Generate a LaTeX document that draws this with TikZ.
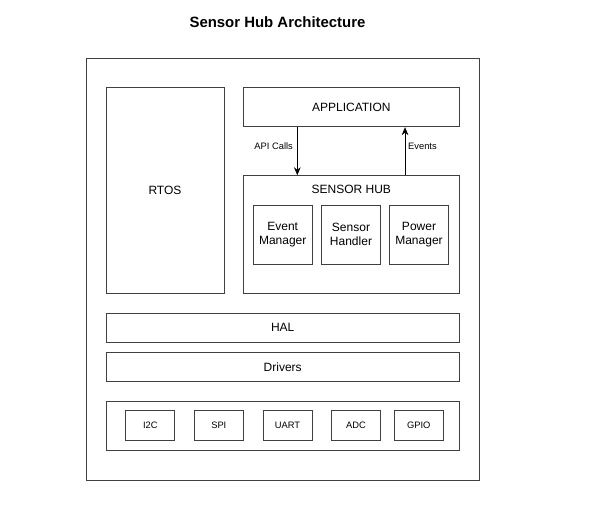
\documentclass[tikz,border=0pt]{standalone}
\usepackage{fontspec}
\setmainfont{Liberation Sans}
\usetikzlibrary{arrows.meta}

\tikzset{
    layer/.style={draw=black!75, line width=0.7pt, fill=white, inner sep=0pt, font=\fontsize{9}{11}\selectfont},
    unit/.style={layer, minimum width=44.5pt, minimum height=44.25pt, align=center},
    port/.style={layer, minimum width=36.75pt, minimum height=22.2pt, font=\fontsize{7}{8}\selectfont},
    tag/.style={font=\fontsize{7}{8}\selectfont, inner sep=1pt}
}

\begin{document}
\begin{tikzpicture}[x=0.75pt,y=-0.75pt,>={Stealth[length=6pt,width=5pt]}]
    \useasboundingbox (0,0) rectangle (597,522);

    % Titre
    \node[font=\bfseries\fontsize{11.2}{13}\selectfont] (title) at (277.5,22) {Sensor Hub Architecture};

    % Cadre
    \node[layer, minimum width=294.2pt, minimum height=316.3pt] (frame) at (282.9,269.2) {};

    % Blocs du haut
    \node[layer, minimum width=88.5pt, minimum height=154.2pt] (rtos) at (165,190.5) {RTOS};
    \node[layer, minimum width=162pt, minimum height=29.25pt] (app) at (351.3,107.2) {APPLICATION};
    \node[layer, minimum width=162pt, minimum height=88.2pt] (hub) at (351.3,234.5) {};
    \node[font=\fontsize{9}{11}\selectfont] (hubtitle) at (351.3,189.3) {SENSOR HUB};

    % Modules du hub
    \node[unit] (evt) at (282.7,234.5) {Event\\Manager};
    \node[unit] (sns) at (351,234.5) {Sensor\\Handler};
    \node[unit] (pwr) at (419,234.5) {Power\\Manager};

    % Flux
    \draw[->, black, line width=0.7pt] ([xshift=-40.5pt]app.south) -- ([xshift=-40.5pt]hub.north)
        node[tag, pos=0.4, anchor=east, xshift=-2pt] {API Calls};
    \draw[->, black, line width=0.7pt] ([xshift=40.3pt]hub.north) -- ([xshift=40.3pt]app.south)
        node[tag, pos=0.6, anchor=west, xshift=1pt] {Events};

    % Couches basses
    \node[layer, minimum width=265pt, minimum height=21.75pt] (hal) at (282.7,327.8) {HAL};
    \node[layer, minimum width=265pt, minimum height=22pt] (drv) at (282.7,367) {Drivers};
    \node[layer, minimum width=265pt, minimum height=37pt] (bus) at (282.7,425.7) {};

    % Interfaces
    \node[port] (i2c) at (150.3,425.5) {I2C};
    \node[port] (spi) at (218.8,425.5) {SPI};
    \node[port] (uart) at (287.5,425.5) {UART};
    \node[port] (adc) at (356,425.5) {ADC};
    \node[port] (gpio) at (418.8,425.5) {GPIO};
\end{tikzpicture}
\end{document}
